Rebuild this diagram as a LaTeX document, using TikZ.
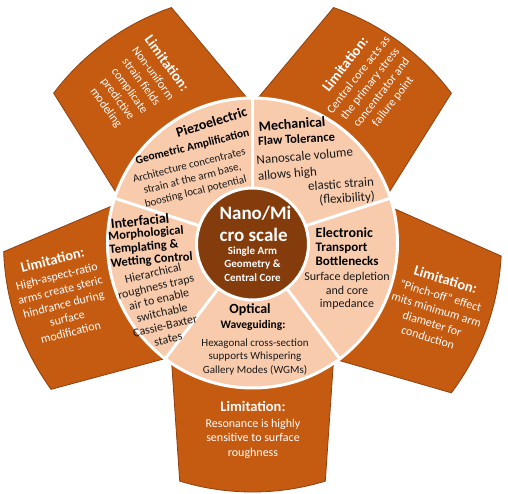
\documentclass[tikz,border=0pt]{standalone}
\usepackage{fontspec}
\setmainfont{Carlito}
\usepackage{xcolor}
\usepackage{tikz}
\usetikzlibrary{positioning}
\definecolor{limitfill}{HTML}{C55A11}
\definecolor{limitline}{HTML}{8E4010}
\definecolor{ringfill}{HTML}{F8CBAD}
\definecolor{corefill}{HTML}{843C0C}
\definecolor{inktext}{HTML}{1A1A1A}
\newcommand{\limhead}[1]{{\fontsize{14.5}{17}\selectfont\bfseries #1}}
\tikzset{
    limitband/.style={fill=limitfill, draw=limitline, line width=0.8pt},
    ring/.style={circle, fill=ringfill, draw=white, line width=3pt, minimum size=290pt, inner sep=0pt},
    divider/.style={draw=white, line width=3pt},
    corecircle/.style={circle, fill=corefill, draw=white, line width=3pt, minimum size=112pt, inner sep=0pt},
    coretitle/.style={font=\fontsize{19}{22}\selectfont\bfseries, text=white, align=left, inner sep=0pt},
    coresub/.style={font=\fontsize{11}{13.5}\selectfont\bfseries, text=white, align=center, inner sep=0pt},
    areatitle/.style={font=\fontsize{14}{16}\selectfont\bfseries, text=black, inner sep=0pt},
    areasub/.style={font=\fontsize{11.5}{13.5}\selectfont\bfseries, text=black, inner sep=0pt},
    areabody/.style={font=\fontsize{11}{13.5}\selectfont, text=inktext, align=center, inner sep=0pt},
    limittext/.style={font=\fontsize{12}{14.5}\selectfont, text=white, align=center, inner sep=0pt}
}

\begin{document}
\begin{tikzpicture}[x=1pt, y=1pt]

\fill[white] (-252.5,-251) rectangle (255.5,243);
\useasboundingbox (-252.5,-251) rectangle (255.5,243);

\foreach \b in {54,126,199,270,340}
    \draw[limitband] ({\b-90}:89) -- ({\b-17}:249) arc[start angle={\b-17}, end angle={\b+17}, radius=249] -- ({\b+90}:89) -- cycle;

\node[ring] (ring) at (0,0) {};
\foreach \a in {18,90,162,233,307}
    \draw[divider] (ring.center) -- (ring.\a);
\node[corecircle] (core) at (0,-1) {};

\node[coretitle] (coretitle) at (3,19) {Nano/Mi\\cro scale};
\node[coresub] (coresub) at (0,-21) {Single Arm\\Geometry \&\\Central Core};

\node[areatitle, rotate=17] (piezotitle) at (-41,121) {Piezoelectric};
\node[areasub, rotate=14] (piezosub) at (-60,96) {Geometric Amplification};
\node[areabody, rotate=14] (piezobody) at (-60,64) {Architecture concentrates\\strain at the arm base,\\boosting local potential};

\node[areatitle, rotate=4] (mechtitle) at (39.5,119) {Mechanical};
\node[areasub, rotate=3, font=\fontsize{12.5}{14}\selectfont\bfseries] (mechsub) at (44,104) {Flaw Tolerance};
\node[areabody, rotate=5, align=left, font=\fontsize{13}{16}\selectfont] (mechbody) at (53,78) {Nanoscale volume\\allows high};
\node[areabody, rotate=4, align=right, font=\fontsize{13}{14.5}\selectfont] (mechmore) at (89,51) {elastic strain\\(flexibility)};

\node[areatitle, anchor=west] (electitle) at (63,10) {Electronic};
\node[areasub, anchor=west, align=left, font=\fontsize{13}{14}\selectfont\bfseries] (elecsub) at (63,-11) {Transport\\Bottlenecks};
\node[areabody, font=\fontsize{12}{13.5}\selectfont] (elecbody) at (94.5,-48) {Surface depletion\\and core\\impedance};

\node[areatitle] (opttitle) at (-2.5,-67) {Optical};
\node[areasub] (optsub) at (0.5,-82) {Waveguiding:};
\node[areabody] (optbody) at (2.5,-114) {Hexagonal cross-section\\supports Whispering\\Gallery Modes (WGMs)};

\node[areatitle, rotate=6] (inttitle) at (-112.5,22) {Interfacial};
\node[areasub, rotate=5, align=left, font=\fontsize{12.5}{13.5}\selectfont\bfseries] (intsub) at (-102,-4) {Morphological\\Templating \&\\Wetting Control};
\node[areabody, rotate=13, font=\fontsize{12}{13.5}\selectfont] (intbody) at (-92,-63) {Hierarchical\\roughness traps\\air to enable\\switchable\\Cassie-Baxter\\states};

\node[limittext, rotate=-54] (piezolimit) at (-116,157.5) {\limhead{Limitation:}\\[1.5pt]Non-uniform\\strain fields\\complicate\\predictive\\modeling};
\node[limittext, rotate=52] (mechlimit) at (116.5,160) {\limhead{Limitation:}\\[1.5pt]Central core acts as\\the primary stress\\concentrator and\\failure point};
\node[limittext, rotate=-17] (eleclimit) at (184.5,-65) {\limhead{Limitation:}\\[1.5pt]"Pinch-off" effect\\mits minimum arm\\diameter for\\conduction};
\node[limittext] (optlimit) at (0.5,-186.5) {\limhead{Limitation:}\\[1.5pt]Resonance is highly\\sensitive to surface\\roughness};
\node[limittext, rotate=14] (intlimit) at (-191,-52.5) {\limhead{Limitation:}\\[1.5pt]High-aspect-ratio\\arms create steric\\hindrance during\\surface\\modification};

\end{tikzpicture}
\end{document}
